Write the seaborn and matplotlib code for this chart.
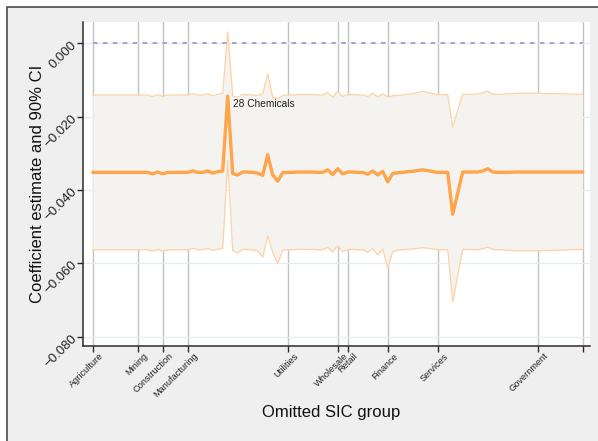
import matplotlib
matplotlib.use("Agg")
import matplotlib.pyplot as plt
from matplotlib.patches import Rectangle
from matplotlib.transforms import ScaledTranslation
import pandas as pd
import seaborn as sns

# Two-digit SIC group left out of the estimation sample
sic = [1, 2, 7, 8, 9, 10, 12, 13, 14, 15, 16, 17,
       20, 21, 22, 23, 24, 25, 26, 27, 28, 29, 30, 31, 32, 33, 34, 35, 36, 37, 38, 39,
       40, 41, 42, 44, 45, 46, 47, 48, 49,
       50, 51, 52, 53, 54, 55, 56, 57, 58, 59,
       60, 61, 62, 63, 64, 65, 67,
       70, 72, 73, 75, 76, 78, 79, 80, 81, 82, 83, 86, 87, 89, 99]

# Coefficient estimate for each omitted group
est = [-0.0352, -0.0352, -0.0352, -0.0352, -0.0352, -0.0352, -0.0352, -0.0356, -0.0351, -0.0356, -0.0352, -0.0352,
       -0.0352, -0.0348, -0.0352, -0.0352, -0.0348, -0.0354, -0.0350, -0.0348, -0.0144, -0.0355, -0.0359, -0.0351,
       -0.0351, -0.0352, -0.0354, -0.0360, -0.0304, -0.0359, -0.0376, -0.0353,
       -0.0352, -0.0352, -0.0351, -0.0351, -0.0351, -0.0352, -0.0352, -0.0345, -0.0358,
       -0.0342, -0.0356, -0.0351, -0.0351, -0.0352, -0.0352, -0.0357, -0.0348, -0.0359, -0.0349,
       -0.0378, -0.0355, -0.0353, -0.0352, -0.0350, -0.0349, -0.0345,
       -0.0352, -0.0352, -0.0466, -0.0351, -0.0351, -0.0351, -0.0348, -0.0342, -0.0351, -0.0352, -0.0352,
       -0.0351, -0.0351, -0.0351, -0.0351]

# Upper bound of the 90% confidence interval
ci_hi = [-0.0141, -0.0141, -0.0141, -0.0141, -0.0141, -0.0141, -0.0141, -0.0145, -0.0140, -0.0145, -0.0141, -0.0141,
         -0.0141, -0.0137, -0.0141, -0.0141, -0.0137, -0.0143, -0.0139, -0.0137, 0.0031, -0.0144, -0.0147, -0.0140,
         -0.0140, -0.0141, -0.0142, -0.0138, -0.0083, -0.0147, -0.0151, -0.0142,
         -0.0141, -0.0141, -0.0140, -0.0140, -0.0140, -0.0141, -0.0141, -0.0134, -0.0147,
         -0.0131, -0.0145, -0.0140, -0.0140, -0.0141, -0.0141, -0.0145, -0.0136, -0.0146, -0.0138,
         -0.0146, -0.0143, -0.0142, -0.0141, -0.0139, -0.0137, -0.0131,
         -0.0140, -0.0140, -0.0228, -0.0139, -0.0139, -0.0138, -0.0135, -0.0130, -0.0139, -0.0139, -0.0139,
         -0.0136, -0.0136, -0.0136, -0.0139]

# Lower bound of the 90% confidence interval
ci_lo = [-0.0563, -0.0563, -0.0563, -0.0563, -0.0563, -0.0563, -0.0563, -0.0567, -0.0562, -0.0567, -0.0563, -0.0563,
         -0.0563, -0.0559, -0.0563, -0.0563, -0.0559, -0.0565, -0.0561, -0.0559, -0.0320, -0.0566, -0.0571, -0.0562,
         -0.0562, -0.0563, -0.0566, -0.0583, -0.0525, -0.0570, -0.0600, -0.0564,
         -0.0563, -0.0563, -0.0562, -0.0562, -0.0562, -0.0563, -0.0563, -0.0556, -0.0569,
         -0.0552, -0.0568, -0.0562, -0.0562, -0.0563, -0.0563, -0.0570, -0.0560, -0.0577, -0.0561,
         -0.0612, -0.0568, -0.0564, -0.0563, -0.0562, -0.0561, -0.0557,
         -0.0563, -0.0563, -0.0705, -0.0562, -0.0562, -0.0563, -0.0560, -0.0556, -0.0562, -0.0563, -0.0563,
         -0.0566, -0.0566, -0.0566, -0.0562]

# Division boundaries on the x axis
div_pos = [1, 10, 15, 20, 40, 50, 52, 60, 70, 90, 99]
div_lab = ["Agriculture", "Mining", "Construction", "Manufacturing", "Utilities",
           "Wholesale", "Retail", "Finance", "Services", "Government", ""]

y_ticks = [0.0, -0.02, -0.04, -0.06, -0.08]

note_sic = 28
note_text = "28 Chemicals"

df = pd.DataFrame({"sic": sic, "est": est, "lo": ci_lo, "hi": ci_hi})

sns.set_theme(style="white")
plt.rcParams["font.family"] = ["Liberation Sans", "DejaVu Sans"]

W, H = 598, 441
fig = plt.figure(figsize=(W / 100, H / 100), dpi=100)
fig.patch.set_facecolor("white")
# outer graph region with its frame
fig.patches.append(Rectangle((7 / W, -0.2), 1.5, 1.2 - 7 / H, transform=fig.transFigure,
                             facecolor="#efefef", edgecolor="#3c3c3c", linewidth=1.1, zorder=-10))

ax = fig.add_axes([83 / W, 95 / H, 507 / W, 324 / H])
ax.set_facecolor("white")

# grid lines
ax.set_xticks(div_pos)
ax.set_yticks(y_ticks)
ax.set_axisbelow(True)
ax.grid(axis="x", color="#c2c2c2", linewidth=1.0, zorder=0)
ax.grid(axis="y", color="#e2eef0", linewidth=0.9, zorder=0)

# confidence band
ax.fill_between(df["sic"], df["lo"], df["hi"], color="#f4f3ef", linewidth=0, zorder=2)
sns.lineplot(data=df, x="sic", y="hi", ax=ax, color="#fdd2a6", linewidth=0.9,
             estimator=None, sort=False, zorder=3)
sns.lineplot(data=df, x="sic", y="lo", ax=ax, color="#fdd2a6", linewidth=0.9,
             estimator=None, sort=False, zorder=3)

# zero reference
ax.hlines(0, min(sic), max(sic), colors="#9d9dcf", linestyles=(0, (2.5, 3)), linewidth=1.3, zorder=3)

# point estimates
sns.lineplot(data=df, x="sic", y="est", ax=ax, color="#ffa54c", linewidth=2.4,
             estimator=None, sort=False, zorder=4)

# label the outlier
note_y = df.loc[df["sic"] == note_sic, "est"].iloc[0]
ax.annotate(note_text, xy=(note_sic, note_y), xytext=(4.0, -6.0), textcoords="offset points",
            ha="left", va="center", fontsize=7.3, color="#222222", zorder=5)

ax.set_xlim(-0.94, 100.46)
ax.set_ylim(-0.08254, 0.00581)

for side in ["top", "right"]:
    ax.spines[side].set_visible(False)
for side in ["left", "bottom"]:
    ax.spines[side].set_color("#2a2a2a")
    ax.spines[side].set_linewidth(1.1)

ax.tick_params(axis="both", direction="out", length=4.3, width=1.0, color="#2a2a2a",
               bottom=True, left=True)
ax.set_yticklabels([f"{v:.3f}".replace("-", "\u2212") for v in y_ticks],
                   rotation=45, rotation_mode="anchor", ha="right", va="center",
                   fontsize=9.5, color="#222222")
ax.set_xticklabels(div_lab, rotation=45, rotation_mode="anchor", ha="right", va="center",
                   fontsize=6.7, color="#222222")
ax.tick_params(axis="x", pad=2.0)
ax.tick_params(axis="y", pad=1.5)
for lab in ax.get_xticklabels():
    lab.set_transform(lab.get_transform() + ScaledTranslation(6.5 / 72, 0, fig.dpi_scale_trans))

ax.set_xlabel("Omitted SIC group", fontsize=12, color="#111111", va="center")
ax.xaxis.set_label_coords(0.49, (346 - 412) / 324)
ax.set_ylabel("Coefficient estimate and 90% CI", fontsize=12, color="#111111", va="center")
ax.yaxis.set_label_coords((38 - 83) / 507, 0.5)

fig.savefig("out.png", dpi=100, facecolor=fig.get_facecolor())
